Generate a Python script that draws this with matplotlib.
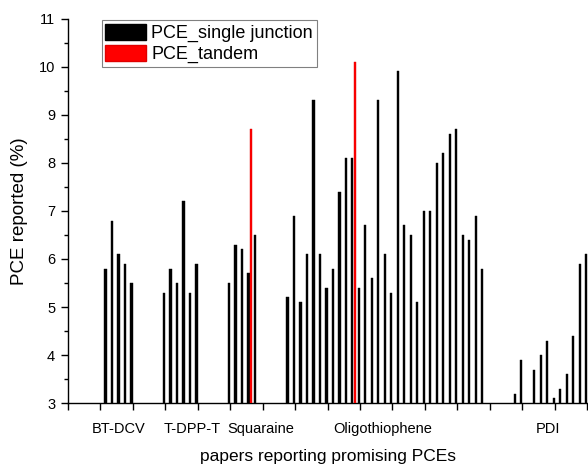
import numpy as np
import matplotlib
matplotlib.use("Agg")
import matplotlib.pyplot as plt
from matplotlib.patches import Patch

plt.rcParams['font.family'] = ['Liberation Sans', 'DejaVu Sans']

# ---- data ----
categories = ["BT-DCV", "T-DPP-T", "Squaraine", "Oligothiophene", "PDI"]
label_pos = [7.9, 19.1, 29.7, 48.5, 74.0]   # where each category label sits on the x axis

bt_dcv_idx = [5, 6, 7, 8, 9]
bt_dcv_pce = [5.8, 6.8, 6.1, 5.9, 5.5]

tdppt_idx = [14, 15, 16, 17, 18, 19]
tdppt_pce = [5.3, 5.8, 5.5, 7.2, 5.3, 5.9]

squaraine_idx = [24, 25, 26, 27, 28]
squaraine_pce = [5.5, 6.3, 6.2, 5.7, 6.5]

oligo_idx = list(range(33, 64))
oligo_pce = [5.2, 6.9, 5.1, 6.1, 9.3, 6.1, 5.4, 5.8, 7.4, 8.1, 8.1,
             5.4, 6.7, 5.6, 9.3, 6.1, 5.3, 9.9, 6.7, 6.5, 5.1,
             7.0, 7.0, 8.0, 8.2, 8.6, 8.7, 6.5, 6.4, 6.9, 5.8]

pdi_idx = [68, 69, 71, 72, 73, 74, 75, 76, 77, 78, 79]
pdi_pce = [3.2, 3.9, 3.7, 4.0, 4.3, 3.1, 3.3, 3.6, 4.4, 5.9, 6.1]

tandem_idx = [27.4, 43.4]
tandem_pce = [8.7, 10.1]

# ---- layout ----
X_SHIFT = 0.82
BAR_W = 0.36

fig = plt.figure(figsize=(5.88, 4.65), dpi=100)
ax = fig.add_axes([0.1151, 0.1327, 0.8849, 0.8275])

single_idx = bt_dcv_idx + tdppt_idx + squaraine_idx + oligo_idx + pdi_idx
single_pce = bt_dcv_pce + tdppt_pce + squaraine_pce + oligo_pce + pdi_pce

ax.bar(np.array(single_idx) + X_SHIFT, single_pce, width=BAR_W,
       color='black', edgecolor='black', linewidth=0.3, zorder=2)
ax.bar(np.array(tandem_idx) + X_SHIFT, tandem_pce, width=BAR_W + 0.04,
       color='#ff0000', edgecolor='#e00000', linewidth=0.3, zorder=3)

ax.set_ylim(3, 11)
ax.set_xlim(0, 80.1)

ax.set_yticks(np.arange(3, 12, 1))
ax.set_yticks(np.arange(3.5, 11, 1), minor=True)
ax.set_xticks(np.arange(0, 81, 5))
ax.set_xticklabels([])

ax.tick_params(axis='both', which='major', direction='out', length=5, width=1,
               labelsize=10.5, pad=4)
ax.tick_params(axis='y', which='minor', direction='out', length=3, width=1)

for s in ['top', 'right']:
    ax.spines[s].set_visible(False)
for s in ['left', 'bottom']:
    ax.spines[s].set_linewidth(1.0)

trans = ax.get_xaxis_transform()
for name, xp in zip(categories, label_pos):
    ax.text(xp, -0.066, name, transform=trans, ha='center', va='center',
            fontsize=10.5)

ax.text(0.5, -0.149, "papers reporting promising PCEs", transform=ax.transAxes,
        ha='center', va='baseline', fontsize=12.5)
fig.text(0.033, 0.545, "PCE reported (%)", rotation=90, ha='center', va='center',
         fontsize=13.5)

handles = [Patch(facecolor='black', edgecolor='black'),
           Patch(facecolor='#ff0000', edgecolor='#e00000')]
leg = ax.legend(handles, ["PCE_single junction", "PCE_tandem"],
                loc='upper left', bbox_to_anchor=(0.0653, 0.996),
                borderaxespad=0, fontsize=13, handlelength=2.25,
                handleheight=1.05, labelspacing=0.12, handletextpad=0.3,
                borderpad=0.2, fancybox=False, framealpha=1,
                edgecolor='#808080')
leg.get_frame().set_linewidth(0.8)

fig.savefig("out.png", dpi=100)
